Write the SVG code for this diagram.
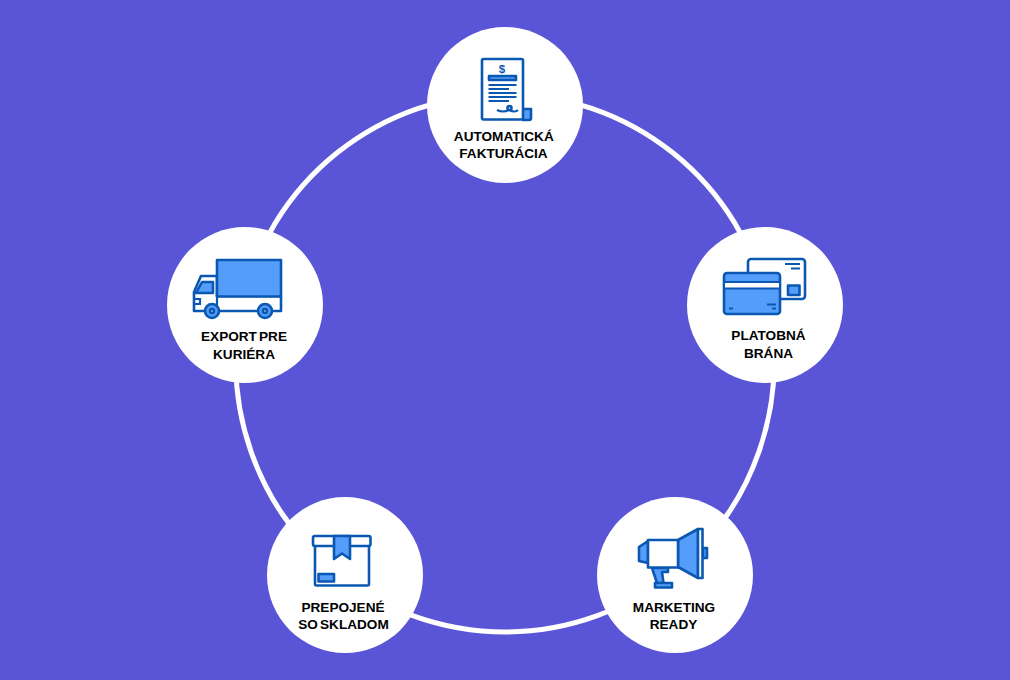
<svg xmlns="http://www.w3.org/2000/svg" width="1010" height="680" viewBox="0 0 1010 680">
<style>
.bg{fill:#5a55d6}
.ring{fill:none;stroke:#fff;stroke-width:5}
.disc{fill:#fff}
.lbl{font-family:"Liberation Sans",Arial,sans-serif;font-weight:700;font-size:13.6px;fill:#000;text-anchor:middle;word-spacing:-1.700px}
.o{fill:#fff;stroke:#0a58b2;stroke-width:2.6;stroke-linejoin:round}
.f{fill:#559dfb;stroke:#0a58b2;stroke-width:2.6;stroke-linejoin:round}
.l{fill:none;stroke:#0a58b2;stroke-width:2.2}
</style>
<rect class="bg" width="1010" height="680"/>
<g id="connectors">
<path class="ring" d="M505 94A269 269 0 0 1 767.500 304.300"/>
<path class="ring" d="M767.500 304.300A269 269 0 0 1 673.200 572.900"/>
<path class="ring" d="M673.200 572.900A269 269 0 0 1 336.800 572.900"/>
<path class="ring" d="M336.800 572.900A269 269 0 0 1 242.500 304.300"/>
<path class="ring" d="M242.500 304.300A269 269 0 0 1 505 94"/>
</g>
<g id="node-fakturacia">
<circle class="disc" cx="505" cy="105" r="78"/>
<path class="f" d="M520 109H531V118Q531 120 529 120H522"/>
<rect class="o" x="482" y="59" width="41" height="60.500" rx="1.500"/>
<text x="502" y="72.500" font-family="Liberation Sans,sans-serif" font-weight="700" font-size="11.500" fill="#0a58b2" text-anchor="middle">$</text>
<rect class="f" x="489" y="76" width="27" height="4" stroke-width="1.200"/>
<path class="l" d="M488.500 85H516.500M488.500 89H509M488.500 93H516.500M488.500 97H516.500M488.500 101H509"/>
<path class="l" d="M497 110Q503 113 509 110Q515 113 518 110"/>
<circle class="o" cx="509.500" cy="108" r="2" stroke-width="1.300"/>
<text class="lbl" x="503.800" y="141">AUTOMATICKÁ</text>
<text class="lbl" x="503.500" y="158">FAKTURÁCIA</text>
</g>
<g id="node-brana">
<circle class="disc" cx="765" cy="305" r="78"/>
<rect class="o" x="748" y="259" width="57" height="40" rx="3"/>
<path class="l" d="M785 264H800M791 268.500H800"/>
<rect class="f" x="788" y="285.500" width="11.500" height="9.500"/>
<rect class="f" x="724" y="273" width="56" height="41" rx="3"/>
<rect x="725" y="282" width="54" height="6.500" fill="#fff"/>
<path class="l" d="M725 282H779M725 288.500H779"/>
<path class="l" d="M729 308.500H733M767 304.500H776M772 308.500H776"/>
<text class="lbl" x="768.500" y="340">PLATOBNÁ</text>
<text class="lbl" x="768.500" y="358">BRÁNA</text>
</g>
<g id="node-marketing">
<circle class="disc" cx="675" cy="575" r="78"/>
<path class="f" d="M703 548H707V558H703Z"/>
<path class="f" d="M648 541L639 547V561L648 563Z"/>
<path class="f" d="M652 568H668V572H662L663.500 583H657Z"/>
<rect class="f" x="655" y="583" width="17" height="4.500"/>
<path class="f" d="M678 540L698 529V578L678 567Z"/>
<rect class="o" x="698" y="529" width="4.500" height="49"/>
<rect class="o" x="648" y="540" width="30" height="27.500"/>
<text class="lbl" x="674" y="612">MARKETING</text>
<text class="lbl" x="673.500" y="629">READY</text>
</g>
<g id="node-sklad">
<circle class="disc" cx="345" cy="575" r="78"/>
<rect class="o" x="315" y="545" width="54" height="40.500" rx="1.500"/>
<rect class="o" x="313" y="536" width="57.500" height="10" rx="2"/>
<path class="f" d="M334 536H350V559L342 553.500L334 559Z"/>
<rect class="f" x="318.500" y="574" width="15.500" height="7.500"/>
<text class="lbl" x="343" y="612">PREPOJENÉ</text>
<text class="lbl" x="343.500" y="629">SO SKLADOM</text>
</g>
<g id="node-kurier">
<circle class="disc" cx="245" cy="305" r="78"/>
<path class="o" d="M217 276H201L194 292V311H281V296H217Z"/>
<path class="f" d="M202 282H213V293H196Z"/>
<rect class="f" x="217" y="260" width="64" height="36.500"/>
<path class="l" d="M217 296V311M194 299H200V304H194"/>
<circle class="f" cx="212" cy="311" r="7"/>
<circle class="o" cx="212" cy="311" r="2" stroke-width="1.500"/>
<circle class="f" cx="265" cy="311" r="7"/>
<circle class="o" cx="265" cy="311" r="2" stroke-width="1.500"/>
<text class="lbl" x="244" y="341">EXPORT PRE</text>
<text class="lbl" x="244" y="358.500">KURIÉRA</text>
</g>
</svg>
